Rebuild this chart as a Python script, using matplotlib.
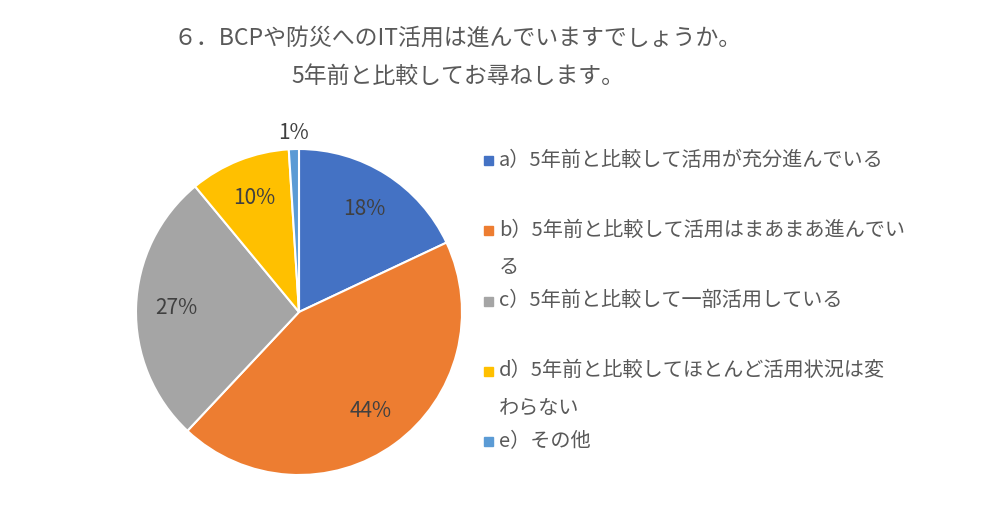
import numpy as np
import matplotlib
matplotlib.use("Agg")
import matplotlib.pyplot as plt
from matplotlib.patches import Rectangle

plt.rcParams['font.family'] = ['Noto Sans CJK JP', 'DejaVu Sans']

# --- データ ---
title_lines = ["６．BCPや防災へのIT活用は進んでいますでしょうか。",
               "5年前と比較してお尋ねします。"]
labels = ["a）5年前と比較して活用が充分進んでいる",
          "b）5年前と比較して活用はまあまあ進んでい\nる",
          "c）5年前と比較して一部活用している",
          "d）5年前と比較してほとんど活用状況は変\nわらない",
          "e）その他"]
values = [18, 44, 27, 10, 1]
colors = ["#4472C4", "#ED7D31", "#A5A5A5", "#FFC000", "#5B9BD5"]

txt_col = "#595959"

fig = plt.figure(figsize=(10, 5.27), dpi=100)

# 円グラフ (中心 x=299px, y=312px, 半径 163px)
ax = fig.add_axes([0.136, 52/527, 0.326, 326/527])
wedges, texts = ax.pie(values, colors=colors, startangle=90, counterclock=False,
                       wedgeprops=dict(edgecolor="white", linewidth=1.5))
ax.set_xlim(-1, 1)
ax.set_ylim(-1, 1)

for w, v in zip(wedges, values):
    ang = np.deg2rad((w.theta1 + w.theta2) / 2)
    r = 1.1 if v < 5 else 0.75
    ax.text(r * np.cos(ang), r * np.sin(ang), f"{v}%", ha="center", va="center",
            fontsize=15, color="#404040", clip_on=False)

# タイトル
fig.text(0.458, 1 - 38/527, title_lines[0], ha="center", va="center",
         fontsize=16.5, color=txt_col)
fig.text(0.458, 1 - 76/527, title_lines[1], ha="center", va="center",
         fontsize=16.5, color=txt_col)

# 凡例
y0 = 160
for i, (lab, c) in enumerate(zip(labels, colors)):
    y = y0 + i * 70.3
    fig.add_artist(Rectangle((484/1000, 1 - (y + 5)/527), 9/1000, 9/527,
                             transform=fig.transFigure, color=c))
    for j, line in enumerate(lab.split("\n")):
        fig.text(499/1000, 1 - (y + j * 37.5)/527, line, ha="left", va="center",
                 fontsize=14.5, color=txt_col)

fig.savefig("out.png", dpi=100, facecolor="white")
